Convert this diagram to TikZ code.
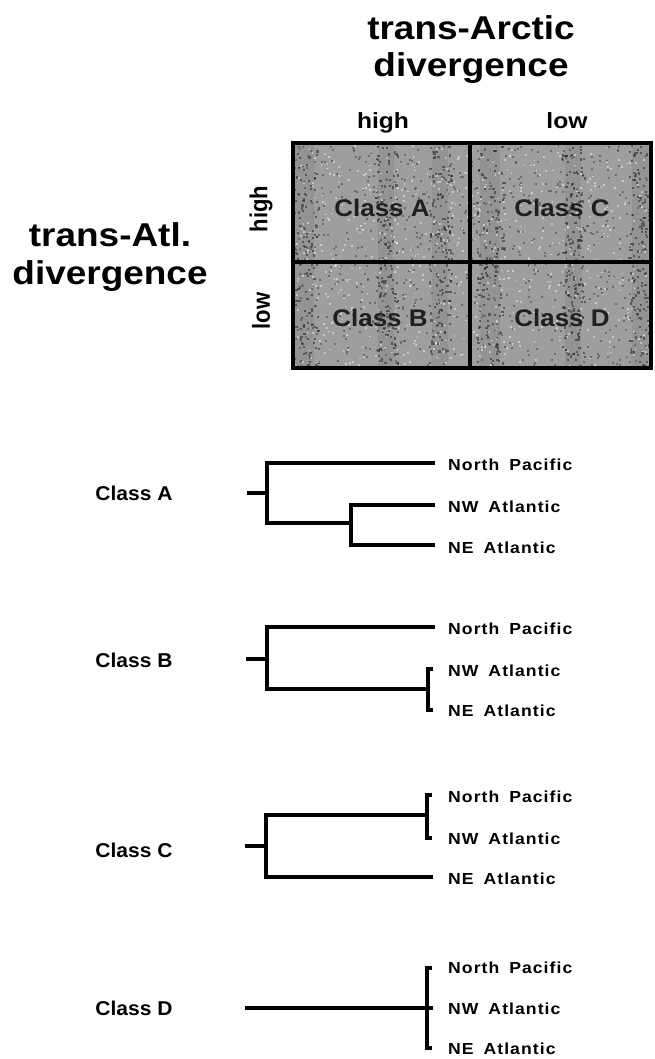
\documentclass[tikz,border=0pt]{standalone}
\usepackage{fontspec}
\setmainfont{Liberation Sans}
\newfontfamily\tipfont[LetterSpace=6]{Liberation Sans}
\begin{document}
\begin{tikzpicture}[x=1pt,y=-1pt,
  head/.style={font=\bfseries\fontsize{33}{37}\selectfont, align=center, inner sep=0, xscale=1.12, anchor=north},
  axis/.style={font=\bfseries\fontsize{22}{26}\selectfont, inner sep=0, xscale=1.12},
  cell/.style={font=\bfseries\fontsize{24}{28}\selectfont, text=black!88, inner sep=0, xscale=1.08},
  cls/.style={font=\bfseries\fontsize{20}{24}\selectfont, inner sep=0, xscale=1.05},
  tip/.style={font=\tipfont\bfseries\fontsize{16}{18}\selectfont, anchor=west, inner sep=0, xscale=1.1},
  br/.style={line width=3.4pt, line cap=butt, line join=miter},
  grid/.style={line width=4pt}]
\useasboundingbox (0,0) rectangle (654,1059);
\newcommand{\gap}{\hspace{9pt}}

% ---------- 2x2 classification matrix ----------
\node[head] (tarc) at (471,15) {trans-Arctic\\divergence};
\node[head, font=\bfseries\fontsize{33}{38}\selectfont] (tatl) at (110,222) {trans-Atl.\\divergence};
\node[axis, anchor=base] (colhigh) at (383,129) {high};
\node[axis, anchor=base] (collow)  at (567,129) {low};
\node[axis, rotate=90] (rowhigh) at (261,209) {high};
\node[axis, rotate=90] (rowlow)  at (261,311) {low};

\fill[black!38] (293,143) rectangle (651,368);
% mottled texture of the printed grey panel
\pgfmathsetseed{11}
\foreach \k in {1,...,700}{
  \pgfmathsetmacro{\px}{295+354*rnd}
  \pgfmathsetmacro{\py}{145+221*rnd}
  \fill[black!80, opacity=0.45] (\px,\py) rectangle ++(2,2);
}
\foreach \bx/\bw in {304/10,386/8,440/8,490/10,573/8,640/8}{
  \fill[black!60, opacity=0.18] (\bx-\bw,145) rectangle (\bx+\bw,366);
  \foreach \k in {1,...,140}{
    \pgfmathsetmacro{\px}{\bx+\bw*(rnd-0.5)*2.8}
    \pgfmathsetmacro{\py}{145+221*rnd}
    \fill[black!85, opacity=0.55] (\px,\py) rectangle ++(2.2,2.2);
  }
}
\foreach \k in {1,...,700}{
  \pgfmathsetmacro{\px}{295+354*rnd}
  \pgfmathsetmacro{\py}{145+221*rnd}
  \fill[white, opacity=0.45] (\px,\py) rectangle ++(1.8,1.8);
}
\draw[grid] (293,143) rectangle (651,368);
\draw[grid] (470,143) -- (470,368);
\draw[grid] (293,262) -- (651,262);
\node[cell] (ca) at (382,208) {Class A};
\node[cell] (cc) at (562,208) {Class C};
\node[cell] (cb) at (380,318) {Class B};
\node[cell] (cd) at (562,318) {Class D};

% ---------- Class A: ((NW, NE), NP) ----------
\node[cls] (la) at (134,493) {Class A};
\node[tip] (a1) at (448,465) {North\gap Pacific};
\node[tip] (a2) at (448,507) {NW\gap Atlantic};
\node[tip] (a3) at (448,548) {NE\gap Atlantic};
\coordinate (ar) at (247,493);
\coordinate (aj) at (267,493);
\coordinate (ak) at (351,523);
\draw[br] (ar) -- (aj);
\draw[br] (435,463) -- (aj |- 0,463) -- (aj |- ak) -- (ak);
\draw[br] (435,505) -- (ak |- 0,505) -- (ak |- 0,545) -- (435,545);

% ---------- Class B: ((NW, NE), NP), shallow Atlantic split ----------
\node[cls] (lb) at (134,660) {Class B};
\node[tip] (b1) at (448,629) {North\gap Pacific};
\node[tip] (b2) at (448,671) {NW\gap Atlantic};
\node[tip] (b3) at (448,711) {NE\gap Atlantic};
\coordinate (br0) at (246,659);
\coordinate (bj) at (267,659);
\coordinate (bk) at (428,689);
\draw[br] (br0) -- (bj);
\draw[br] (435,627) -- (bj |- 0,627) -- (bj |- bk) -- (bk);
\draw[br] (433,669) -- (bk |- 0,669) -- (bk |- 0,710) -- (433,710);

% ---------- Class C: ((NP, NW), NE) ----------
\node[cls] (lc) at (134,850) {Class C};
\node[tip] (c1) at (448,797) {North\gap Pacific};
\node[tip] (c2) at (448,839) {NW\gap Atlantic};
\node[tip] (c3) at (448,879) {NE\gap Atlantic};
\coordinate (cr) at (245,846);
\coordinate (cj) at (266,846);
\coordinate (ck) at (427,815);
\draw[br] (cr) -- (cj);
\draw[br] (ck) -- (cj |- ck) -- (cj |- 0,877) -- (433,877);
\draw[br] (432,795) -- (ck |- 0,795) -- (ck |- 0,838) -- (432,838);

% ---------- Class D: unresolved trichotomy ----------
\node[cls] (ld) at (134,1008) {Class D};
\node[tip] (d1) at (448,968) {North\gap Pacific};
\node[tip] (d2) at (448,1009) {NW\gap Atlantic};
\node[tip] (d3) at (448,1049) {NE\gap Atlantic};
\coordinate (dr) at (245,1008);
\coordinate (dk) at (427,1008);
\draw[br] (dr) -- (433,1008);
\draw[br] (432,968) -- (dk |- 0,968) -- (dk |- 0,1048) -- (432,1048);
\end{tikzpicture}
\end{document}
